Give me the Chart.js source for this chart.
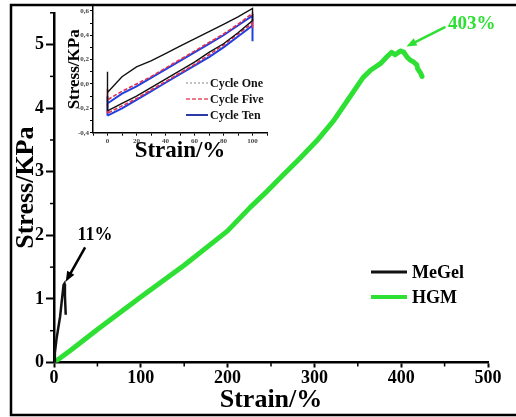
<!DOCTYPE html>
<html>
<head>
<meta charset="utf-8">
<script src="https://cdn.jsdelivr.net/npm/chart.js@4.4.0/dist/chart.umd.min.js"></script>
<style>
  html, body { margin: 0; padding: 0; background: #fff; }
  #wrap { position: relative; width: 516px; height: 417px; overflow: hidden; }
  #main { position: absolute; left: 0; top: 0; }
  #inset { position: absolute; left: 55px; top: 0; }
</style>
</head>
<body>
<div id="wrap">
  <canvas id="main" width="516" height="417"></canvas>
  <canvas id="inset" width="220" height="170"></canvas>
</div>
<script>
// Main curves: strain (%) vs stress (KPa)
const hgmStrain = [0, 20, 50, 100, 150, 200, 226, 246, 264, 284, 303, 322, 341, 356, 365, 376, 383, 389, 393, 399, 403, 407, 411, 414, 418, 419, 422, 424];
const hgmStress = [0, 0.2, 0.52, 1.03, 1.53, 2.07, 2.44, 2.7, 2.95, 3.22, 3.49, 3.8, 4.18, 4.48, 4.6, 4.7, 4.8, 4.88, 4.84, 4.9, 4.88, 4.8, 4.75, 4.73, 4.68, 4.62, 4.56, 4.5];
const megelStrain = [0, 1, 3, 7, 11, 12, 12.6, 13.5];
const megelStress = [0, 0.15, 0.38, 0.72, 1.22, 1.24, 1.05, 0.75];

// Inset: cyclic loading between 0 and 100 % strain
const cycleStrain = [0, 10, 20, 30, 40, 50, 60, 70, 80, 90, 100];
const cycleOneUp = [-0.07, 0.06, 0.14, 0.19, 0.25, 0.31, 0.37, 0.43, 0.49, 0.55, 0.62];
const cycleOneDown = [-0.22, -0.16, -0.10, -0.03, 0.04, 0.11, 0.18, 0.26, 0.33, 0.42, 0.52];
const cycleFiveUp = [-0.13, -0.06, 0.0, 0.06, 0.13, 0.20, 0.27, 0.34, 0.41, 0.49, 0.58];
const cycleFiveDown = [-0.24, -0.18, -0.12, -0.05, 0.02, 0.09, 0.16, 0.24, 0.32, 0.41, 0.50];
const cycleTenUp = [-0.16, -0.08, -0.02, 0.05, 0.12, 0.19, 0.26, 0.33, 0.40, 0.48, 0.56];
const cycleTenDown = [-0.26, -0.20, -0.13, -0.06, 0.01, 0.08, 0.15, 0.22, 0.30, 0.39, 0.48];
const cycleJumpTop = [0.10, -0.04, -0.10];   // top of the jump at 0 %
const cycleDropEnd = [0.52, 0.46, 0.35];     // bottom of the drop at 100 %

const seriesLabels = ['MeGel', 'HGM'];
const cycleLabels = ['Cycle One', 'Cycle Five', 'Cycle Ten'];

const SERIF = '"Liberation Serif", "Times New Roman", serif';
const GREEN = '#2fe034';

function zip(xs, ys) {
    return xs.map((x, i) => ({ x: x, y: ys[i] }));
}

function loopPath(up, down, jumpTop, dropEnd) {
    const pts = [{ x: 0, y: down[0] }, { x: 0, y: jumpTop }];
    cycleStrain.forEach((s, i) => pts.push({ x: s, y: up[i] }));
    pts.push({ x: 100, y: dropEnd });
    for (let i = cycleStrain.length - 1; i >= 0; i--) pts.push({ x: cycleStrain[i], y: down[i] });
    return pts;
}

// short minor ticks between the labelled ones
function minorTicks(scaleIds, len, isMajor) {
    return {
        id: 'minorTicks',
        afterDraw(chart) {
            const ctx = chart.ctx;
            ctx.save();
            ctx.strokeStyle = '#000';
            ctx.lineWidth = 1.5;
            scaleIds.forEach(id => {
                const sc = chart.scales[id];
                sc.ticks.forEach(t => {
                    if (isMajor(id, t.value)) return;
                    const p = sc.getPixelForValue(t.value);
                    ctx.beginPath();
                    if (sc.isHorizontal()) {
                        ctx.moveTo(p, sc.top);
                        ctx.lineTo(p, sc.top + len);
                    } else {
                        ctx.moveTo(sc.right, p);
                        ctx.lineTo(sc.right - len, p);
                    }
                    ctx.stroke();
                });
            });
            ctx.restore();
        }
    };
}

function arrow(ctx, x1, y1, x2, y2, color, width) {
    const ang = Math.atan2(y2 - y1, x2 - x1);
    const head = 11;
    ctx.strokeStyle = color;
    ctx.fillStyle = color;
    ctx.lineWidth = width;
    ctx.beginPath();
    ctx.moveTo(x1, y1);
    ctx.lineTo(x2 - Math.cos(ang) * head * 0.7, y2 - Math.sin(ang) * head * 0.7);
    ctx.stroke();
    ctx.beginPath();
    ctx.moveTo(x2, y2);
    ctx.lineTo(x2 - head * Math.cos(ang - 0.38), y2 - head * Math.sin(ang - 0.38));
    ctx.lineTo(x2 - head * Math.cos(ang + 0.38), y2 - head * Math.sin(ang + 0.38));
    ctx.closePath();
    ctx.fill();
}

const mainDecor = {
    id: 'mainDecor',
    afterDraw(chart) {
        const ctx = chart.ctx;
        const xs = chart.scales.x, ys = chart.scales.y;
        ctx.save();

        // annotations
        const notes = [
            { text: '11%', color: '#000', size: 18, tx: 27, ty: 2.0, from: [35.8, 1.81], to: [13.5, 1.27] },
            { text: '403%', color: GREEN, size: 19, tx: 454, ty: 5.33, from: [451, 5.28], to: [406, 4.97] }
        ];
        notes.forEach(n => {
            arrow(ctx, xs.getPixelForValue(n.from[0]), ys.getPixelForValue(n.from[1]),
                xs.getPixelForValue(n.to[0]), ys.getPixelForValue(n.to[1]), n.color, 2.5);
            ctx.font = 'bold ' + n.size + 'px ' + SERIF;
            ctx.fillStyle = n.color;
            ctx.textBaseline = 'middle';
            ctx.textAlign = 'left';
            ctx.fillText(n.text, xs.getPixelForValue(n.tx), ys.getPixelForValue(n.ty));
        });

        // legend
        ctx.font = 'bold 18px ' + SERIF;
        ctx.textBaseline = 'middle';
        chart.data.datasets.forEach((ds, i) => {
            const y = 272 + i * 25;
            ctx.strokeStyle = ds.borderColor;
            ctx.lineWidth = i === 0 ? 3 : 4;
            ctx.beginPath();
            ctx.moveTo(371, y);
            ctx.lineTo(407, y);
            ctx.stroke();
            ctx.fillStyle = '#000';
            ctx.fillText(ds.label, 412, y + 1);
        });

        // outer frame
        ctx.strokeStyle = '#000';
        ctx.lineWidth = 2.5;
        ctx.strokeRect(11, 5, 520, 410);
        ctx.restore();
    }
};

Chart.defaults.font.family = SERIF;
Chart.defaults.font.weight = 'bold';
Chart.defaults.color = '#000';

new Chart(document.getElementById('main'), {
    type: 'scatter',
    data: {
        datasets: [
            {
                label: seriesLabels[0],
                data: zip(megelStrain, megelStress),
                showLine: true,
                borderColor: '#111',
                borderWidth: 2.5,
                pointRadius: 0
            },
            {
                label: seriesLabels[1],
                data: zip(hgmStrain, hgmStress),
                showLine: true,
                borderColor: GREEN,
                borderWidth: 5,
                borderCapStyle: 'round',
                borderJoinStyle: 'round',
                pointRadius: 0
            }
        ]
    },
    options: {
        responsive: false,
        devicePixelRatio: 1,
        animation: false,
        events: [],
        layout: { padding: { left: 0, top: 11, right: 28, bottom: 0 } },
        plugins: { legend: { display: false }, tooltip: { enabled: false } },
        scales: {
            x: {
                type: 'linear',
                min: 0,
                max: 500,
                border: { color: '#000', width: 2.5 },
                grid: {
                    drawOnChartArea: false,
                    tickLength: 5,
                    tickWidth: 2,
                    tickColor: c => (c.tick && c.tick.value % 100 === 0) ? '#000' : 'rgba(0,0,0,0)'
                },
                ticks: {
                    stepSize: 50,
                    includeBounds: false,
                    maxRotation: 0,
                    autoSkip: false,
                    padding: 0,
                    font: { size: 18, weight: 'bold' },
                    callback: v => (v % 100 === 0 ? String(v) : '')
                },
                title: {
                    display: true,
                    text: 'Strain/%',
                    font: { size: 26, weight: 'bold' },
                    padding: { top: 0, bottom: 1 }
                },
                afterFit: s => { s.height = 54.5; }
            },
            y: {
                type: 'linear',
                min: 0,
                max: 5.5,
                border: { color: '#000', width: 2.5 },
                grid: {
                    drawOnChartArea: false,
                    tickLength: 8,
                    tickWidth: 2,
                    tickColor: c => (c.tick && c.tick.value % 1 === 0) ? '#000' : 'rgba(0,0,0,0)'
                },
                ticks: {
                    stepSize: 0.5,
                    includeBounds: false,
                    autoSkip: false,
                    padding: 2,
                    font: { size: 18, weight: 'bold' },
                    callback: v => (v % 1 === 0 ? String(v) : '')
                },
                title: {
                    display: true,
                    text: 'Stress/KPa',
                    font: { size: 26, weight: 'bold' },
                    padding: { top: 11, bottom: 0 }
                },
                afterFit: s => { s.width = 54; }
            }
        }
    },
    plugins: [mainDecor, minorTicks(['x', 'y'], 4, (id, v) => id === 'x' ? v % 100 === 0 : v % 1 === 0)]
});

// inset legend
const insetLegend = {
    id: 'insetLegend',
    afterDraw(chart) {
        const ctx = chart.ctx;
        ctx.save();
        ctx.font = 'bold 12px ' + SERIF;
        ctx.textBaseline = 'middle';
        const samples = [
            { color: '#999', dash: [2, 2], width: 1.2 },
            { color: '#e8506a', dash: [4, 2], width: 1.5 },
            { color: '#2a3aa8', dash: [], width: 2 }
        ];
        chart.data.datasets.forEach((ds, i) => {
            const y = 83 + i * 16;
            ctx.strokeStyle = samples[i].color;
            ctx.lineWidth = samples[i].width;
            ctx.setLineDash(samples[i].dash);
            ctx.beginPath();
            ctx.moveTo(131, y);
            ctx.lineTo(153, y);
            ctx.stroke();
            ctx.setLineDash([]);
            ctx.fillStyle = '#111';
            ctx.fillText(ds.label, 155, y + 1);
        });
        ctx.restore();
    }
};

new Chart(document.getElementById('inset'), {
    type: 'scatter',
    data: {
        datasets: [
            {
                label: cycleLabels[0],
                data: loopPath(cycleOneUp, cycleOneDown, cycleJumpTop[0], cycleDropEnd[0]),
                showLine: true,
                borderColor: '#111',
                borderWidth: 1.4,
                pointRadius: 0
            },
            {
                label: cycleLabels[1],
                data: loopPath(cycleFiveUp, cycleFiveDown, cycleJumpTop[1], cycleDropEnd[1]),
                showLine: true,
                borderColor: '#e0304f',
                borderDash: [4, 2],
                borderWidth: 1.6,
                pointRadius: 0
            },
            {
                label: cycleLabels[2],
                data: loopPath(cycleTenUp, cycleTenDown, cycleJumpTop[2], cycleDropEnd[2]),
                showLine: true,
                borderColor: '#1f3fe0',
                borderWidth: 2,
                pointRadius: 0
            }
        ]
    },
    options: {
        responsive: false,
        devicePixelRatio: 1,
        animation: false,
        events: [],
        layout: { padding: { left: 0, top: 6, right: 8, bottom: 0 } },
        plugins: { legend: { display: false }, tooltip: { enabled: false } },
        scales: {
            x: {
                type: 'linear',
                min: -10,
                max: 110,
                border: { color: '#000', width: 1.5 },
                grid: { drawOnChartArea: false, tickLength: 3, tickWidth: 1, tickColor: '#000' },
                ticks: {
                    stepSize: 10,
                    includeBounds: false,
                    maxRotation: 0,
                    autoSkip: false,
                    padding: 1,
                    color: '#444',
                    font: { size: 7, weight: 'bold' },
                    callback: v => (v % 20 === 0 && v >= 0 && v <= 100 ? String(v) : '')
                },
                title: {
                    display: true,
                    text: 'Strain/%',
                    font: { size: 23, weight: 'bold' },
                    padding: { top: 0, bottom: 5 }
                },
                afterFit: s => { s.height = 37.3; }
            },
            y: {
                type: 'linear',
                min: -0.4,
                max: 0.64,
                border: { color: '#000', width: 1.5 },
                grid: { drawOnChartArea: false, tickLength: 3, tickWidth: 1, tickColor: '#000' },
                ticks: {
                    stepSize: 0.1,
                    includeBounds: false,
                    autoSkip: false,
                    padding: 1,
                    color: '#444',
                    font: { size: 7, weight: 'bold' },
                    callback: v => {
                        const r = Math.round(v * 10);
                        if (r % 2 !== 0) return '';
                        return (r / 10).toFixed(1).replace('.', ',');
                    }
                },
                title: {
                    display: true,
                    text: 'Stress/KPa',
                    font: { size: 17, weight: 'bold' },
                    padding: { top: 9, bottom: 0 }
                },
                afterFit: s => { s.width = 38; }
            }
        }
    },
    plugins: [insetLegend]
});
</script>
</body>
</html>
